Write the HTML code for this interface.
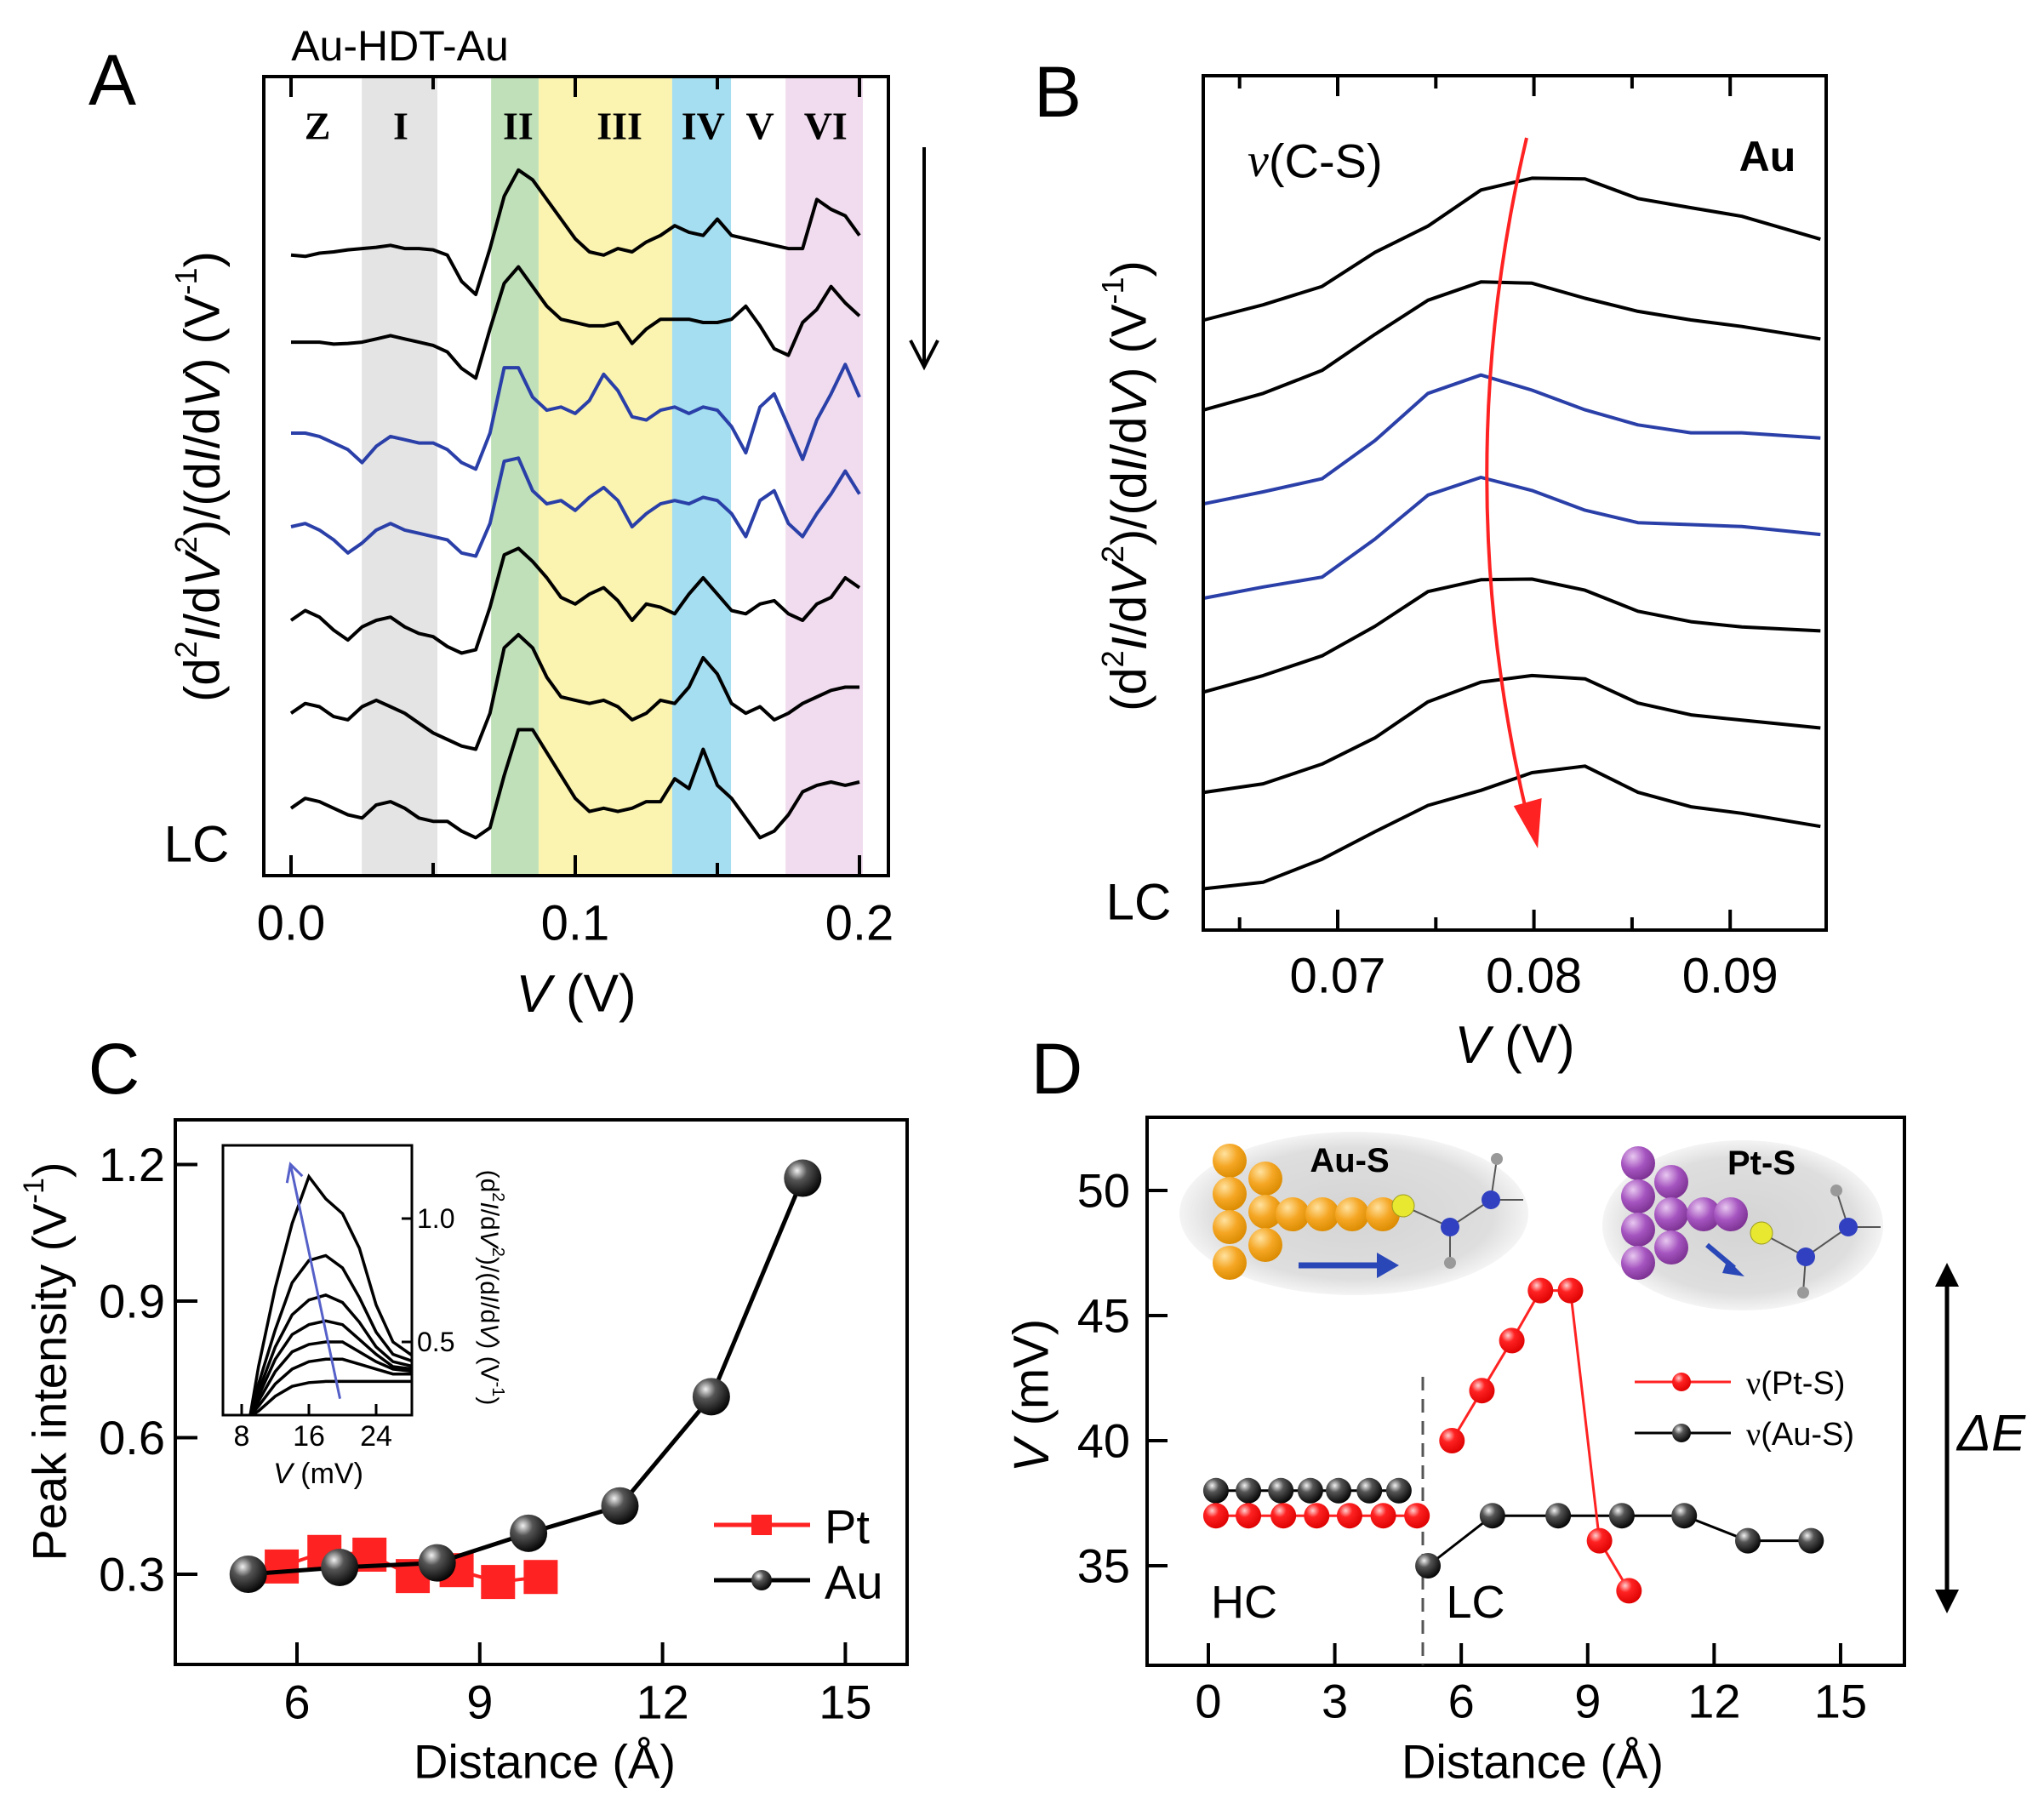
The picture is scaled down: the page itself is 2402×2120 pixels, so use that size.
<!DOCTYPE html>
<html><head><meta charset="utf-8"><style>
html,body{margin:0;padding:0;background:#fff;}
svg{display:block;font-family:"Liberation Sans",sans-serif;}
</style></head><body>
<svg id="fig" width="2402" height="2120" viewBox="0 0 2402 2120" xmlns="http://www.w3.org/2000/svg">
<defs>
<radialGradient id="gBlack" cx="0.35" cy="0.3" r="0.75"><stop offset="0" stop-color="#f2f2f2"/><stop offset="0.35" stop-color="#555"/><stop offset="1" stop-color="#000"/></radialGradient>
<radialGradient id="gRed" cx="0.35" cy="0.3" r="0.75"><stop offset="0" stop-color="#ffd0d0"/><stop offset="0.35" stop-color="#f22"/><stop offset="1" stop-color="#d00"/></radialGradient>
<radialGradient id="gGold" cx="0.35" cy="0.3" r="0.75"><stop offset="0" stop-color="#ffe2a0"/><stop offset="0.5" stop-color="#f5a623"/><stop offset="1" stop-color="#d98a00"/></radialGradient>
<radialGradient id="gPurple" cx="0.35" cy="0.3" r="0.75"><stop offset="0" stop-color="#e8c8f0"/><stop offset="0.5" stop-color="#a655c0"/><stop offset="1" stop-color="#7a3090"/></radialGradient>
<radialGradient id="gShade" cx="0.5" cy="0.5" r="0.5"><stop offset="0" stop-color="#d4d4d4"/><stop offset="0.8" stop-color="#dedede"/><stop offset="1" stop-color="#f4f4f4"/></radialGradient>
<clipPath id="clipA"><rect x="310" y="90" width="734" height="939"/></clipPath>
<clipPath id="clipB"><rect x="1414" y="89" width="732" height="1004"/></clipPath>
<clipPath id="clipI"><rect x="262" y="1346" width="222" height="317"/></clipPath>
</defs>
</svg>
<script>
// ---------- DATA ----------
// Panel A
const aV = [0,0.005,0.01,0.015,0.02,0.025,0.03,0.035,0.04,0.045,0.05,0.055,0.06,0.065,0.07,0.075,0.08,0.085,0.09,0.095,0.1,0.105,0.11,0.115,0.12,0.125,0.13,0.135,0.14,0.145,0.15,0.155,0.16,0.165,0.17,0.175,0.18,0.185,0.19,0.195,0.2];
const aOffsets = [948,815,676,533,390,248,103];
const aT1 = [0,-2,3,5,8,10,12,15,10,10,8,0,-40,-60,10,90,130,115,85,55,25,5,0,10,5,20,30,45,35,30,55,30,25,20,15,10,10,85,70,60,30];
const aT2 = [0,0,0,-3,-2,0,5,10,5,0,-5,-15,-40,-55,20,90,115,85,55,35,30,25,25,30,-2,20,35,35,35,30,30,35,55,25,-10,-20,30,50,85,60,40];
const aT3 = [0,0,-5,-15,-25,-45,-20,-5,-10,-15,-15,-25,-45,-55,0,100,100,55,35,40,30,50,90,65,25,20,35,40,30,40,35,10,-30,40,60,10,-40,20,60,105,55];
const aT4 = [0,5,-5,-20,-40,-25,-5,5,-5,-10,-15,-20,-40,-45,5,100,105,55,35,40,25,45,60,40,0,20,35,40,35,45,40,20,-15,40,55,5,-15,20,50,85,50];
const aT5 = [0,15,5,-15,-30,-10,0,5,-10,-20,-25,-40,-50,-45,20,100,110,90,65,35,25,40,50,30,0,25,20,10,40,65,40,15,10,25,30,10,0,25,35,65,50];
const aT6 = [0,15,10,-5,-10,10,20,10,0,-15,-30,-40,-50,-55,0,100,120,100,55,25,20,15,20,10,-10,0,20,15,40,85,60,15,0,10,-10,0,15,25,35,40,40];
const aT7 = [0,15,10,0,-10,-15,5,10,0,-15,-20,-20,-35,-45,-30,50,120,120,85,50,15,-5,0,-5,0,10,10,45,30,90,35,15,-15,-45,-35,-10,25,35,40,35,40];
const aTraces = [aT1,aT2,aT3,aT4,aT5,aT6,aT7];
const aColors = ['#000','#000','#2a3fa8','#2a3fa8','#000','#000','#000'];
const bandStart = [0.0249,0.0704,0.0871,0.1341,0.174];
const bandEnd = [0.0515,0.0871,0.1341,0.1548,0.2012];
const bandColors = ['#e4e4e4','#bfe0b8','#fbf4b0','#a4def0','#f0dcee'];
const regionLabels = ['Z','I','II','III','IV','V','VI'];
const regionPos = [0.0093,0.0386,0.0799,0.1156,0.145,0.165,0.1881];
const aTicks = [0,0.1,0.2];
const aTickLabels = ['0.0','0.1','0.2'];
const aMinor = [0.05,0.15];
// Panel B
const bV = [0.0632,0.0662,0.0692,0.0719,0.0746,0.0773,0.0799,0.0826,0.0853,0.0880,0.0906,0.0946];
const bOffsets = [9.30,7.93,6.50,5.06,3.63,2.10,0.63];
const bT1 = [0,0.23,0.51,1.03,1.43,1.98,2.16,2.15,1.85,1.71,1.58,1.23];
const bT2 = [0,0.25,0.60,1.15,1.67,1.95,1.93,1.70,1.50,1.37,1.27,1.08];
const bT3 = [0,0.18,0.38,0.96,1.68,1.96,1.73,1.43,1.20,1.08,1.08,1.00];
const bT4 = [0,0.17,0.32,0.90,1.57,1.84,1.64,1.34,1.15,1.12,1.09,0.97];
const bT5 = [0,0.25,0.55,1.00,1.53,1.71,1.72,1.55,1.23,1.07,0.99,0.93];
const bT6 = [0,0.13,0.43,0.83,1.38,1.68,1.78,1.73,1.36,1.18,1.10,0.98];
const bT7 = [0,0.10,0.45,0.87,1.27,1.50,1.77,1.87,1.47,1.25,1.15,0.95];
const bTraces = [bT1,bT2,bT3,bT4,bT5,bT6,bT7];
const bColors = ['#000','#000','#2a3fa8','#2a3fa8','#000','#000','#000'];
const bTicks = [0.07,0.08,0.09];
const bTickLabels = ['0.07','0.08','0.09'];
const bMinor = [0.065,0.075,0.085];
// Panel C
const cAuDist = [5.2,6.7,8.3,9.8,11.3,12.8,14.3];
const cAuPeak = [0.30,0.315,0.325,0.39,0.45,0.69,1.17];
const cPtDist = [5.75,6.45,7.19,7.9,8.62,9.3,10.0];
const cPtPeak = [0.317,0.349,0.343,0.296,0.309,0.283,0.294];
const cXTicks = [6,9,12,15];
const cYTicks = [0.3,0.6,0.9,1.2];
const cYTickLabels = ['0.3','0.6','0.9','1.2'];
// Panel C inset
const iMv = [9,10,12,14,16,18,20,22,24,26,28.5];
const iC1 = [0.20,0.40,0.72,0.98,1.17,1.08,1.02,0.88,0.65,0.50,0.44];
const iC2 = [0.20,0.33,0.55,0.74,0.83,0.85,0.80,0.68,0.54,0.45,0.42];
const iC3 = [0.20,0.30,0.48,0.61,0.67,0.69,0.66,0.58,0.48,0.42,0.40];
const iC4 = [0.20,0.28,0.43,0.53,0.57,0.585,0.57,0.51,0.45,0.40,0.39];
const iC5 = [0.20,0.26,0.38,0.46,0.49,0.50,0.50,0.46,0.42,0.39,0.38];
const iC6 = [0.20,0.24,0.33,0.39,0.42,0.43,0.43,0.41,0.39,0.37,0.37];
const iC7 = [0.20,0.22,0.28,0.32,0.335,0.34,0.34,0.34,0.34,0.34,0.34];
const iCurves = [iC1,iC2,iC3,iC4,iC5,iC6,iC7];
const iXTicks = [8,16,24];
const iYTicks = [0.5,1.0];
const iYTickLabels = ['0.5','1.0'];
// Panel D
const dAuHCDist = [0.18,0.95,1.72,2.42,3.09,3.82,4.52];
const dAuHCV = [38,38,38,38,38,38,38];
const dAuLCDist = [5.21,6.74,8.3,9.81,11.29,12.8,14.3];
const dAuLCV = [35,37,37,37,37,36,36];
const dPtHCDist = [0.18,0.95,1.78,2.57,3.35,4.15,4.95];
const dPtHCV = [37,37,37,37,37,37,37];
const dPtLCDist = [5.78,6.49,7.2,7.88,8.59,9.28,9.98];
const dPtLCV = [40,42,44,46,46,36,34];
const dXTicks = [0,3,6,9,12,15];
const dYTicks = [35,40,45,50];

// ---------- AXIS FUNCTIONS ----------
const xA = v => 342 + v*3340;
const yA = u => 1029 - u*0.7692;
const xB = v => 1572 + (v-0.07)*23060;
const yB = u => 1093 - u*77.1;
const xC = d => 349 + (d-6)*71.6;
const yC = v => 1850 - (v-0.3)*535;
const xI = mv => 284 + (mv-8)*9.875;
const yI = v => 1577 - (v-0.5)*290;
const xD = d => 1420 + d*49.53;
const yD = v => 1840 - (v-35)*29.4;

const NS = 'http://www.w3.org/2000/svg';
const svg = document.getElementById('fig');
function el(tag, attrs, parent) {
  const e = document.createElementNS(NS, tag);
  for (const k in attrs) e.setAttribute(k, attrs[k]);
  (parent || svg).appendChild(e);
  return e;
}
function txt(s, x, y, size, opts, parent) {
  const t = el('text', Object.assign({x:x, y:y, 'font-size':size, 'text-anchor':'middle', 'dominant-baseline':'central', fill:'#000'}, opts||{}), parent);
  t.textContent = s;
  return t;
}
function grp() { return el('g', {}); }

// ================= PANEL A =================
const gA = grp();


for (let i = 0; i < bandStart.length; i++) {
  const r = el('rect', {x:xA(bandStart[i]), y:90, width:xA(bandEnd[i])-xA(bandStart[i]), height:939, fill:bandColors[i]}, gA);
  
  
}
for (let i = 0; i < regionLabels.length; i++) {
  const t = txt(regionLabels[i], xA(regionPos[i]), 148, 46, {'font-family':'"Liberation Serif",serif', 'font-weight':'bold'}, gA);
  
  
}
for (let k = 0; k < aTraces.length; k++) {
  let d = '';
  for (let i = 0; i < aV.length; i++) d += (i ? 'L' : 'M') + xA(aV[i]).toFixed(1) + ',' + yA(aOffsets[k] + aTraces[k][i]).toFixed(1);
  const p = el('path', {d:d, fill:'none', stroke:aColors[k], 'stroke-width':4, 'stroke-linejoin':'round', 'clip-path':'url(#clipA)'}, gA);
  
  
}
const frA = el('rect', {x:310, y:90, width:734, height:939, fill:'none', stroke:'#000', 'stroke-width':4}, gA);


for (let i = 0; i < aTicks.length; i++) {
  const x = xA(aTicks[i]);
  el('line', {x1:x, y1:1029, x2:x, y2:1005, stroke:'#000', 'stroke-width':4}, gA);
  el('line', {x1:x, y1:90, x2:x, y2:114, stroke:'#000', 'stroke-width':4}, gA);
  const t = txt(aTickLabels[i], x, 1085, 58, {}, gA);
  
  
}
for (let i = 0; i < aMinor.length; i++) {
  const x = xA(aMinor[i]);
  el('line', {x1:x, y1:1029, x2:x, y2:1014, stroke:'#000', 'stroke-width':4}, gA);
  el('line', {x1:x, y1:90, x2:x, y2:105, stroke:'#000', 'stroke-width':4}, gA);
}
const aXT = el('text', {x:677, y:1168, 'font-size':62, 'text-anchor':'middle', 'dominant-baseline':'central'}, gA);
aXT.innerHTML = '<tspan font-style="italic">V</tspan> (V)';


const aYT = el('text', {x:0, y:0, 'font-size':58, 'text-anchor':'middle', 'dominant-baseline':'central', transform:'translate(238,560) rotate(-90)'}, gA);
aYT.innerHTML = '(d<tspan font-size="36" dy="-20">2</tspan><tspan dy="20" font-style="italic">I</tspan>/d<tspan font-style="italic">V</tspan><tspan font-size="36" dy="-20">2</tspan><tspan dy="20">)/(d</tspan><tspan font-style="italic">I</tspan>/d<tspan font-style="italic">V</tspan>) (V<tspan font-size="36" dy="-20">-1</tspan><tspan dy="20">)</tspan>';


const aLab = txt('A', 132, 94, 84, {}, gA);


const aTitle = txt('Au-HDT-Au', 470, 54, 50, {}, gA);


const aLC = txt('LC', 231, 992, 60, {}, gA);


const aArr = el('path', {d:'M1086,173 L1086,430 M1070,400 L1086,431 L1102,400', fill:'none', stroke:'#000', 'stroke-width':4}, gA);



// ================= PANEL B =================
const gB = grp();


for (let k = 0; k < bTraces.length; k++) {
  let d = '';
  for (let i = 0; i < bV.length; i++) d += (i ? 'L' : 'M') + xB(bV[i]).toFixed(1) + ',' + yB(bOffsets[k] + bTraces[k][i]).toFixed(1);
  const p = el('path', {d:d, fill:'none', stroke:bColors[k], 'stroke-width':4, 'stroke-linejoin':'round', 'clip-path':'url(#clipB)'}, gB);
  
  
}
const frB = el('rect', {x:1414, y:89, width:732, height:1004, fill:'none', stroke:'#000', 'stroke-width':4}, gB);


for (let i = 0; i < bTicks.length; i++) {
  const x = xB(bTicks[i]);
  el('line', {x1:x, y1:1093, x2:x, y2:1069, stroke:'#000', 'stroke-width':4}, gB);
  el('line', {x1:x, y1:89, x2:x, y2:113, stroke:'#000', 'stroke-width':4}, gB);
  const t = txt(bTickLabels[i], x, 1147, 58, {}, gB);
  
  
}
for (let i = 0; i < bMinor.length; i++) {
  const x = xB(bMinor[i]);
  el('line', {x1:x, y1:1093, x2:x, y2:1078, stroke:'#000', 'stroke-width':4}, gB);
  el('line', {x1:x, y1:89, x2:x, y2:104, stroke:'#000', 'stroke-width':4}, gB);
}
const bXT = el('text', {x:1780, y:1228, 'font-size':62, 'text-anchor':'middle', 'dominant-baseline':'central'}, gB);
bXT.innerHTML = '<tspan font-style="italic">V</tspan> (V)';


const bYT = el('text', {x:0, y:0, 'font-size':58, 'text-anchor':'middle', 'dominant-baseline':'central', transform:'translate(1327,571) rotate(-90)'}, gB);
bYT.innerHTML = '(d<tspan font-size="36" dy="-20">2</tspan><tspan dy="20" font-style="italic">I</tspan>/d<tspan font-style="italic">V</tspan><tspan font-size="36" dy="-20">2</tspan><tspan dy="20">)/(d</tspan><tspan font-style="italic">I</tspan>/d<tspan font-style="italic">V</tspan>) (V<tspan font-size="36" dy="-20">-1</tspan><tspan dy="20">)</tspan>';


const bLab = txt('B', 1243, 108, 84, {}, gB);


const bMode = el('text', {x:1466, y:189, 'font-size':56, 'dominant-baseline':'central'}, gB);
bMode.innerHTML = '<tspan font-style="italic" font-family="Liberation Serif,serif">ν</tspan>(C-S)';


const bAu = txt('Au', 2077, 184, 50, {'font-weight':'bold'}, gB);


const bLC = txt('LC', 1338, 1060, 60, {}, gB);


const bArr = el('path', {d:'M1794,162 Q1700,560 1795,960', fill:'none', stroke:'#f22', 'stroke-width':4}, gB);


const bHead = el('path', {d:'M1781,948 L1806,992 L1810,940 Z', fill:'#f22', stroke:'#f22', 'stroke-width':3}, gB);



// ================= PANEL C =================
const gC = grp();


const frC = el('rect', {x:206, y:1316, width:860, height:640, fill:'none', stroke:'#000', 'stroke-width':4}, gC);


for (let i = 0; i < cXTicks.length; i++) {
  const x = xC(cXTicks[i]);
  el('line', {x1:x, y1:1956, x2:x, y2:1930, stroke:'#000', 'stroke-width':4}, gC);
  const t = txt(String(cXTicks[i]), x, 2000, 56, {}, gC);
  
  
}
for (let i = 0; i < cYTicks.length; i++) {
  const y = yC(cYTicks[i]);
  el('line', {x1:206, y1:y, x2:232, y2:y, stroke:'#000', 'stroke-width':4}, gC);
  const t = txt(cYTickLabels[i], 194, y, 56, {'text-anchor':'end'}, gC);
  
  
}
const cXT = txt('Distance (Å)', 640, 2070, 56, {}, gC);


const cYT = el('text', {x:0, y:0, 'font-size':56, 'text-anchor':'middle', 'dominant-baseline':'central', transform:'translate(58,1600) rotate(-90)'}, gC);
cYT.innerHTML = 'Peak intensity (V<tspan font-size="34" dy="-18">-1</tspan><tspan dy="18">)</tspan>';


const cLab = txt('C', 134, 1256, 84, {}, gC);


// Pt series
let dPt = '';
for (let i = 0; i < cPtDist.length; i++) dPt += (i ? 'L' : 'M') + xC(cPtDist[i]).toFixed(1) + ',' + yC(cPtPeak[i]).toFixed(1);
const ptLine = el('path', {d:dPt, fill:'none', stroke:'#f22', 'stroke-width':4}, gC);


for (let i = 0; i < cPtDist.length; i++) {
  const s = el('rect', {x:xC(cPtDist[i])-20, y:yC(cPtPeak[i])-20, width:40, height:40, fill:'#f22'}, gC);
  
  
}
let dAu = '';
for (let i = 0; i < cAuDist.length; i++) dAu += (i ? 'L' : 'M') + xC(cAuDist[i]).toFixed(1) + ',' + yC(cAuPeak[i]).toFixed(1);
const auLine = el('path', {d:dAu, fill:'none', stroke:'#000', 'stroke-width':5}, gC);


for (let i = 0; i < cAuDist.length; i++) {
  const c = el('circle', {cx:xC(cAuDist[i]), cy:yC(cAuPeak[i]), r:22, fill:'url(#gBlack)'}, gC);
  
  
}
// legend
const lgPt = el('line', {x1:839, y1:1792, x2:952, y2:1792, stroke:'#f22', 'stroke-width':5}, gC);


el('rect', {x:883, y:1780, width:24, height:24, fill:'#f22'}, gC);
const lgPtT = txt('Pt', 969, 1794, 56, {'text-anchor':'start'}, gC);


const lgAu = el('line', {x1:839, y1:1857, x2:952, y2:1857, stroke:'#000', 'stroke-width':5}, gC);


el('circle', {cx:895, cy:1857, r:12, fill:'url(#gBlack)'}, gC);
const lgAuT = txt('Au', 969, 1859, 56, {'text-anchor':'start'}, gC);


// inset
const gI = el('g', {}, gC);


el('rect', {x:262, y:1346, width:222, height:317, fill:'#fff'}, gI);
for (let k = 0; k < iCurves.length; k++) {
  let d = '';
  for (let i = 0; i < iMv.length; i++) d += (i ? 'L' : 'M') + xI(iMv[i]).toFixed(1) + ',' + yI(iCurves[k][i]).toFixed(1);
  const p = el('path', {d:d, fill:'none', stroke:'#000', 'stroke-width':3.5, 'clip-path':'url(#clipI)'}, gI);
  
  
}
const iArr = el('path', {d:'M'+xI(19.7)+','+yI(0.27)+' L'+xI(13.8)+','+yI(1.22)+' M'+(xI(13.8)-4)+','+(yI(1.22)+22)+' L'+xI(13.8)+','+yI(1.22)+' L'+(xI(13.8)+14)+','+(yI(1.22)+14), fill:'none', stroke:'#5560c8', 'stroke-width':3}, gI);


el('rect', {x:262, y:1346, width:222, height:317, fill:'none', stroke:'#000', 'stroke-width':3}, gI);
for (let i = 0; i < iXTicks.length; i++) {
  const x = xI(iXTicks[i]);
  el('line', {x1:x, y1:1663, x2:x, y2:1650, stroke:'#000', 'stroke-width':3}, gI);
  const t = txt(String(iXTicks[i]), x, 1688, 34, {}, gI);
  
  
}
for (let i = 0; i < iYTicks.length; i++) {
  const y = yI(iYTicks[i]);
  el('line', {x1:484, y1:y, x2:472, y2:y, stroke:'#000', 'stroke-width':3}, gI);
  const t = txt(iYTickLabels[i], 490, y, 32, {'text-anchor':'start'}, gI);
  
  
}
const iXT = el('text', {x:374, y:1732, 'font-size':34, 'text-anchor':'middle', 'dominant-baseline':'central'}, gI);
iXT.innerHTML = '<tspan font-style="italic">V</tspan> (mV)';


const iYT = el('text', {x:0, y:0, 'font-size':30, 'text-anchor':'middle', 'dominant-baseline':'central', transform:'translate(575,1513) rotate(90)'}, gI);
iYT.innerHTML = '(d<tspan font-size="20" dy="-10">2</tspan><tspan dy="10" font-style="italic">I</tspan>/d<tspan font-style="italic">V</tspan><tspan font-size="20" dy="-10">2</tspan><tspan dy="10">)/(d</tspan><tspan font-style="italic">I</tspan>/d<tspan font-style="italic">V</tspan>) (V<tspan font-size="20" dy="-10">-1</tspan><tspan dy="10">)</tspan>';



// ================= PANEL D =================
const gD = grp();


const dLab = txt('D', 1242, 1256, 84, {}, gD);


// schematic insets
const sAu = el('g', {}, gD);


el('ellipse', {cx:1591, cy:1426, rx:205, ry:96, fill:'url(#gShade)'}, sAu);
[[1445,1364],[1445,1403],[1445,1442],[1445,1484],[1487,1385],[1487,1424],[1487,1463],[1519,1427],[1554,1427],[1589,1427],[1625,1427]].forEach(p => {
  el('circle', {cx:p[0], cy:p[1], r:20, fill:'url(#gGold)'}, sAu);
});
el('path', {d:'M1649,1417 L1704,1442 L1752,1410 L1790,1410 M1704,1442 L1704,1484 M1752,1410 L1759,1362', fill:'none', stroke:'#555', 'stroke-width':2}, sAu);
el('circle', {cx:1649, cy:1417, r:13, fill:'#e8e830', stroke:'#9a9a20', 'stroke-width':1}, sAu);
el('circle', {cx:1704, cy:1442, r:11, fill:'#3040c0'}, sAu);
el('circle', {cx:1752, cy:1410, r:11, fill:'#3040c0'}, sAu);
el('circle', {cx:1759, cy:1362, r:7, fill:'#999'}, sAu);
el('circle', {cx:1704, cy:1484, r:7, fill:'#999'}, sAu);
el('path', {d:'M1526,1487 L1622,1487', stroke:'#2a47b8', 'stroke-width':7}, sAu);
el('path', {d:'M1618,1472 L1644,1487 L1618,1502 Z', fill:'#2a47b8'}, sAu);
const tAuS = txt('Au-S', 1586, 1364, 40, {'font-weight':'bold'}, sAu);


const sPt = el('g', {}, gD);


el('ellipse', {cx:2048, cy:1440, rx:165, ry:100, fill:'url(#gShade)'}, sPt);
[[1925,1367],[1925,1406],[1925,1445],[1925,1484],[1964,1389],[1964,1427],[1964,1466],[2002,1427],[2034,1427]].forEach(p => {
  el('circle', {cx:p[0], cy:p[1], r:20, fill:'url(#gPurple)'}, sPt);
});
el('path', {d:'M2070,1449 L2122,1477 L2172,1442 L2210,1442 M2122,1477 L2119,1519 M2172,1442 L2158,1399', fill:'none', stroke:'#555', 'stroke-width':2}, sPt);
el('circle', {cx:2070, cy:1449, r:13, fill:'#e8e830', stroke:'#9a9a20', 'stroke-width':1}, sPt);
el('circle', {cx:2122, cy:1477, r:11, fill:'#3040c0'}, sPt);
el('circle', {cx:2172, cy:1442, r:11, fill:'#3040c0'}, sPt);
el('circle', {cx:2158, cy:1399, r:7, fill:'#999'}, sPt);
el('circle', {cx:2119, cy:1519, r:7, fill:'#999'}, sPt);
el('path', {d:'M2006,1463 L2038,1490', stroke:'#2a47b8', 'stroke-width':6}, sPt);
el('path', {d:'M2030,1480 L2050,1500 L2024,1496 Z', fill:'#2a47b8'}, sPt);
const tPtS = txt('Pt-S', 2070, 1367, 40, {'font-weight':'bold'}, sPt);



const frD = el('rect', {x:1348, y:1313, width:890, height:644, fill:'none', stroke:'#000', 'stroke-width':4}, gD);


for (let i = 0; i < dXTicks.length; i++) {
  const x = xD(dXTicks[i]);
  el('line', {x1:x, y1:1957, x2:x, y2:1931, stroke:'#000', 'stroke-width':4}, gD);
  const t = txt(String(dXTicks[i]), x, 1999, 56, {}, gD);
  
  
}
for (let i = 0; i < dYTicks.length; i++) {
  const y = yD(dYTicks[i]);
  el('line', {x1:1348, y1:y, x2:1372, y2:y, stroke:'#000', 'stroke-width':4}, gD);
  const t = txt(String(dYTicks[i]), 1328, y, 56, {'text-anchor':'end'}, gD);
  
  
}
const dXT = txt('Distance (Å)', 1801, 2070, 56, {}, gD);


const dYT = el('text', {x:0, y:0, 'font-size':58, 'text-anchor':'middle', 'dominant-baseline':'central', transform:'translate(1212,1640) rotate(-90)'}, gD);
dYT.innerHTML = '<tspan font-style="italic">V</tspan> (mV)';


const dash = el('line', {x1:1672, y1:1618, x2:1672, y2:1957, stroke:'#555', 'stroke-width':3, 'stroke-dasharray':'16,10'}, gD);


const tHC = txt('HC', 1462, 1883, 54, {}, gD);


const tLC = txt('LC', 1734, 1883, 54, {}, gD);


function series(xs, ys, color, grad, name) {
  let d = '';
  for (let i = 0; i < xs.length; i++) d += (i ? 'L' : 'M') + xD(xs[i]).toFixed(1) + ',' + yD(ys[i]).toFixed(1);
  const p = el('path', {d:d, fill:'none', stroke:color, 'stroke-width':3}, gD);
  
  
  for (let i = 0; i < xs.length; i++) {
    const c = el('circle', {cx:xD(xs[i]), cy:yD(ys[i]), r:15, fill:grad}, gD);
    
    
  }
}
series(dAuHCDist, dAuHCV, '#000', 'url(#gBlack)', 'au-s-hc');
series(dPtHCDist, dPtHCV, '#f22', 'url(#gRed)', 'pt-s-hc');
series(dAuLCDist, dAuLCV, '#000', 'url(#gBlack)', 'au-s-lc');
series(dPtLCDist, dPtLCV, '#f22', 'url(#gRed)', 'pt-s-lc');
// legend
const lgD1 = el('line', {x1:1921, y1:1624, x2:2034, y2:1624, stroke:'#f22', 'stroke-width':3}, gD);


el('circle', {cx:1976, cy:1624, r:11, fill:'url(#gRed)'}, gD);
const lgD1T = el('text', {x:2052, y:1626, 'font-size':38, 'dominant-baseline':'central'}, gD);
lgD1T.innerHTML = '<tspan font-family="Liberation Serif,serif">ν</tspan>(Pt-S)';


const lgD2 = el('line', {x1:1921, y1:1684, x2:2034, y2:1684, stroke:'#000', 'stroke-width':3}, gD);


el('circle', {cx:1976, cy:1684, r:11, fill:'url(#gBlack)'}, gD);
const lgD2T = el('text', {x:2052, y:1686, 'font-size':38, 'dominant-baseline':'central'}, gD);
lgD2T.innerHTML = '<tspan font-family="Liberation Serif,serif">ν</tspan>(Au-S)';


// Delta E arrow
const dE = el('path', {d:'M2288,1500 L2288,1880', stroke:'#000', 'stroke-width':5, fill:'none'}, gD);


el('path', {d:'M2274,1512 L2288,1484 L2302,1512 Z M2274,1868 L2288,1896 L2302,1868 Z', fill:'#000'}, gD);
const dET = el('text', {x:2340, y:1684, 'font-size':60, 'font-style':'italic', 'text-anchor':'middle', 'dominant-baseline':'central'}, gD);
dET.textContent = 'ΔE';


</script>
</body></html>
